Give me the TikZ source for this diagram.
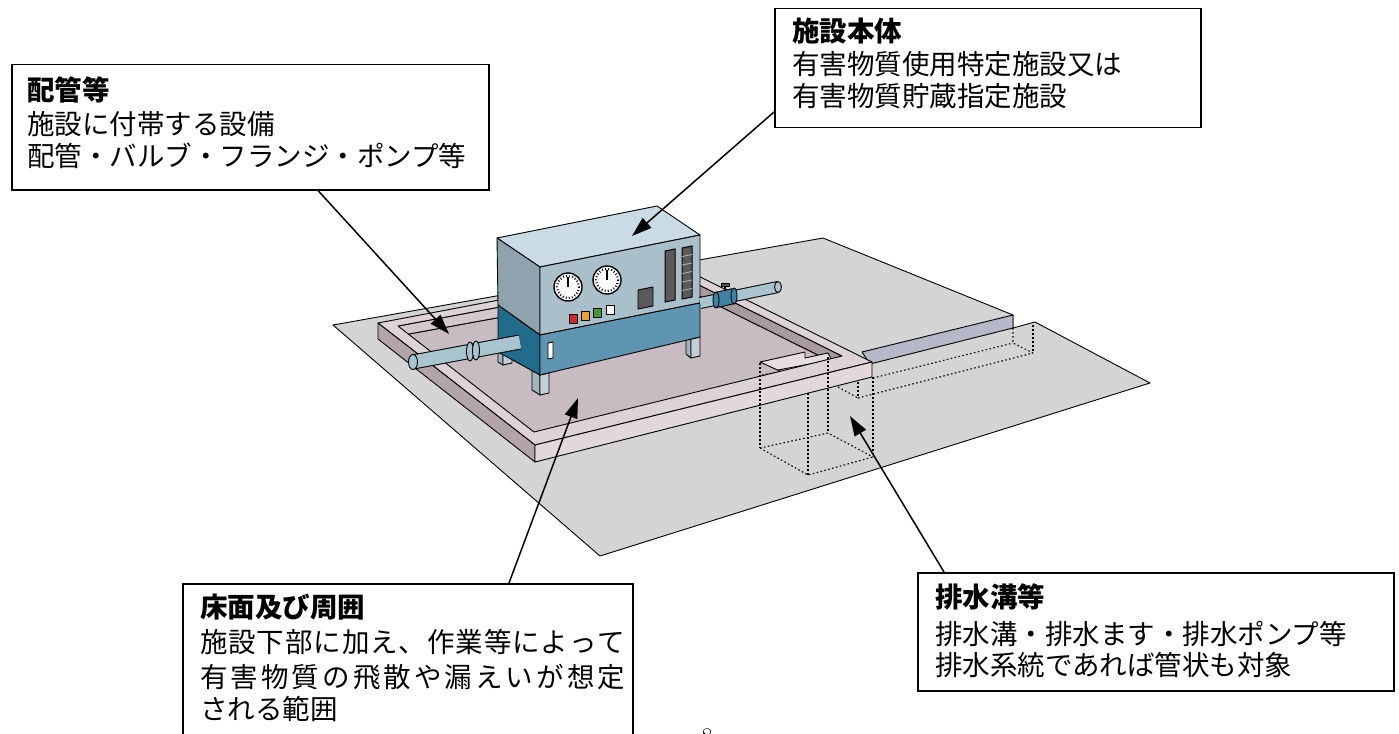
\documentclass[tikz,border=0pt]{standalone}
\usepackage{fontspec}
\setmainfont{Noto Sans CJK JP}
\newfontfamily\lmfont{Latin Modern Roman}
\usetikzlibrary{arrows.meta,calc}
\definecolor{plane}{HTML}{D4D4D4}
\definecolor{slabface}{HTML}{B4B8C9}
\definecolor{floorc}{HTML}{C8BBC1}
\definecolor{bermtop}{HTML}{DDD2D6}
\definecolor{bermfront}{HTML}{E2D8DB}
\definecolor{bermleft}{HTML}{B2A4A9}
\definecolor{bermin}{HTML}{A99AA0}
\definecolor{bermback}{HTML}{D3C8CC}
\definecolor{pitc}{HTML}{E6DEE1}
\definecolor{mtop}{HTML}{C9DCE5}
\definecolor{mfront}{HTML}{A9BFCA}
\definecolor{mleft}{HTML}{8EA3AD}
\definecolor{mfrontlow}{HTML}{5F95B1}
\definecolor{mleftlow}{HTML}{216B8B}
\definecolor{pipec}{HTML}{A8C4CE}
\definecolor{valvec}{HTML}{3B82A3}
\definecolor{legfront}{HTML}{C2D0D6}
\definecolor{legside}{HTML}{A2B4BC}
\definecolor{dispc}{HTML}{5A5A5A}
\definecolor{btnred}{HTML}{D8232A}
\definecolor{btnorange}{HTML}{F0A030}
\definecolor{btngreen}{HTML}{3B9B3B}
\makeatletter
\def\spr@end{}
\def\spr@loop#1{\ifx#1\spr@end\else#1\hfill\expandafter\spr@loop\fi}
\newcommand\spreadto[2]{\hbox to #1{\spr@loop#2\spr@end\hskip 0pt plus -1fill\relax}}
\makeatother
\begin{document}
\begin{tikzpicture}[x=1pt,y=-1pt,
  edge/.style={draw=black,line width=0.9pt,line join=round},
  hid/.style={draw=black,line width=1.1pt,dash pattern=on 1.6pt off 2.4pt},
  box/.style={draw=black,line width=1.5pt,fill=white,rectangle,inner sep=0pt,anchor=north west},
  lbl/.style={anchor=base west,inner sep=0pt,font=\fontsize{27.5}{30}\selectfont},
  hd/.style={anchor=base west,inner sep=0pt,font=\fontsize{27.5}{30}\selectfont\bfseries},
  callout/.style={line width=1.5pt,-{Triangle[length=20pt,width=13pt]}}]
\useasboundingbox (0,0) rectangle (1399,733);
\fill[white] (0,0) rectangle (1399,733);

% ground plane
\filldraw[fill=plane,edge] (333,325) -- (823,238) -- (1013,315) -- (1013,328) -- (1035,322) -- (1150,383) -- (600,556) -- cycle;
% raised slab front face
\filldraw[fill=slabface,edge] (862,352) -- (1013,315) -- (1013,328) -- (870,364) -- cycle;

% containment berm
\coordinate (BL) at (378,323); \coordinate (BR) at (678,266);
\coordinate (FR) at (872,362); \coordinate (FL) at (535,445);
\coordinate (BLi) at (398,326); \coordinate (BRi) at (677,274);
\coordinate (FRi) at (842,356); \coordinate (FLi) at (534,432);
\filldraw[fill=floorc,edge] (398,336) -- (677,285) -- (842,367) -- (534,447) -- cycle;
\filldraw[fill=bermback,edge] (BLi) -- (BRi) -- (677,285) -- (398,336) -- cycle;
\filldraw[fill=bermin,edge] (BRi) -- (FRi) -- (842,367) -- (677,285) -- cycle;
% pit opening
\filldraw[fill=pitc,edge] (760,362) -- (805,352) -- (805,358) -- (828,353) -- (834,364) -- (795,378) -- cycle;
\draw[edge] (778,370) -- (831,360);
% berm top, outer faces
\fill[bermtop,even odd rule] (BL) -- (BR) -- (FR) -- (FL) -- cycle (BLi) -- (BRi) -- (FRi) -- (FLi) -- cycle;
\draw[edge] (BL) -- (BR) -- (FR) -- (FL) -- cycle (BLi) -- (BRi) -- (FRi) -- (FLi) -- cycle;
\filldraw[fill=bermleft,edge] (BL) -- (FL) -- (535,462) -- (378,339) -- cycle;
\filldraw[fill=bermfront,edge] (FL) -- (FR) -- (872,377) -- (535,462) -- cycle;

% hidden drain channel and pit (dotted)
\draw[hid] (873,378) -- (1013,343);
\draw[hid] (858,398) -- (1033,353);
\draw[hid] (1013,328) -- (1013,343) -- (1033,353);
\draw[hid] (1033,325) -- (1033,353);
\draw[hid] (858,382) -- (858,398);
\draw[hid] (838,387) -- (858,398);
\draw[hid] (760,363) -- (760,448);
\draw[hid,line width=1.5pt] (808,393) -- (808,475);
\draw[hid] (828,357) -- (828,433);
\draw[hid] (873,377) -- (873,457);
\draw[hid] (760,448) -- (808,475) -- (873,457);
\draw[hid] (760,448) -- (828,433) -- (873,457);
\draw[hid] (762,375) -- (778,372);

% machine legs
\filldraw[fill=legside,edge] (498,350) -- (503,353) -- (503,365) -- (498,362) -- cycle;
\filldraw[fill=legfront,edge] (503,353) -- (512,351) -- (512,363) -- (503,365) -- cycle;
\filldraw[fill=legside,edge] (532,370) -- (540,375) -- (540,395) -- (532,390) -- cycle;
\filldraw[fill=legfront,edge] (540,375) -- (549,373) -- (549,393) -- (540,395) -- cycle;
\filldraw[fill=legside,edge] (686,335) -- (691,339) -- (691,358) -- (686,354) -- cycle;
\filldraw[fill=legfront,edge] (691,339) -- (700,337) -- (700,356) -- (691,358) -- cycle;
% machine body
\filldraw[fill=mtop,edge] (497,238) -- (657,206) -- (700,235) -- (540,267) -- cycle;
\filldraw[fill=mleft,edge] (497,238) -- (540,267) -- (540,335) -- (498,305) -- cycle;
\filldraw[fill=mleftlow,edge] (498,305) -- (540,335) -- (540,375) -- (498,352) -- cycle;
\filldraw[fill=mfront,edge] (540,267) -- (700,235) -- (700,303) -- (540,335) -- cycle;
\filldraw[fill=mfrontlow,edge] (540,335) -- (700,303) -- (700,337) -- (540,375) -- cycle;
% gauges
\foreach \gx/\gy in {568/287, 607/280}{
  \filldraw[fill=white,draw=black,line width=1.4pt] (\gx,\gy) circle[radius=14];
  \draw[line width=2.2pt,dash pattern=on 0.9pt off 2.2pt] (\gx,\gy) circle[radius=11];
  \draw[line width=2pt] (\gx,\gy) -- ++(0,-10);
}
% buttons
\filldraw[fill=btnred,edge] (569,314) rectangle ++(8,9);
\filldraw[fill=btnorange,edge] (581,311) rectangle ++(8,9);
\filldraw[fill=btngreen,edge] (593,308) rectangle ++(8,9);
\filldraw[fill=white,edge] (606,305) rectangle ++(8,9);
% display and bars
\filldraw[fill=dispc,edge] (638,290) -- (653,287) -- (653,306) -- (638,309) -- cycle;
\filldraw[fill=dispc,draw=black,line width=1pt] (665,251) -- (675,249) -- (675,300) -- (665,302) -- cycle;
\filldraw[fill=dispc,draw=black,line width=1pt] (682,248) -- (692,246) -- (692,297) -- (682,299) -- cycle;
\foreach \k in {1,...,5}{
  \draw[white!70!black,line width=0.8pt] (682,{248+8.5*\k}) -- (692,{246+8.5*\k});
}
\filldraw[fill=white,edge] (548,343) -- (553,342) -- (553,358) -- (548,359) -- cycle;

% left pipe
\draw[line width=15pt,black] (413,362) -- (520,342);
\draw[line width=13pt,pipec] (413,362) -- (520,342);
\filldraw[fill=pipec,edge] (413,362) ellipse[x radius=4.5,y radius=7.5];
\filldraw[fill=pipec,edge] (470,351.5) ellipse[x radius=3.5,y radius=9.5];
\filldraw[fill=pipec,edge] (476,350.5) ellipse[x radius=3.5,y radius=9.5];
% right pipe with valve
\draw[line width=12pt,black] (700,303) -- (778,287);
\draw[line width=10pt,pipec] (700,303) -- (778,287);
\filldraw[fill=pipec,edge] (778,287) ellipse[x radius=3.5,y radius=5.5];
\draw[line width=16pt,black] (716,300) -- (734,296);
\draw[line width=14pt,valvec] (716,300) -- (734,296);
\filldraw[fill=valvec,edge] (716,300) ellipse[x radius=3,y radius=8];
\filldraw[fill=valvec,edge] (734,296) ellipse[x radius=3,y radius=8];
\draw[line width=2.5pt] (725,290) -- (725,284);
\filldraw[fill=dispc,edge] (721,283) rectangle (729,286);

% label boxes
\node[box,minimum width=477pt,minimum height=125pt] (bPipe) at (11,64) {};
\node[box,minimum width=426pt,minimum height=119pt] (bBody) at (774,8) {};
\node[box,minimum width=450pt,minimum height=180pt] (bFloor) at (182,583) {};
\node[box,minimum width=476pt,minimum height=118pt] (bDrain) at (917,572) {};

\node[hd]  (t1a) at (27,101) {配管等};
\node[lbl] (t1b) at (27,134.5) {施設に付帯する設備};
\node[lbl] (t1c) at (27,166.5) {配管・バルブ・フランジ・ポンプ等};

\node[hd]  (t2a) at (792,42) {施設本体};
\node[lbl] (t2b) at (792,74.5) {有害物質使用特定施設又は};
\node[lbl] (t2c) at (792,106.5) {有害物質貯蔵指定施設};

\node[hd]  (t3a) at (200,617.5) {床面及び周囲};
\node[lbl] (t3b) at (200,652) {\spreadto{425pt}{施設下部に加え、作業等によって}};
\node[lbl] (t3c) at (200,687) {\spreadto{425pt}{有害物質の飛散や漏えいが想定}};
\node[lbl] (t3d) at (200,719.5) {される範囲};

\node[hd]  (t4a) at (935,607) {排水溝等};
\node[lbl] (t4b) at (935,644) {排水溝・排水ます・排水ポンプ等};
\node[lbl] (t4c) at (935,675.5) {排水系統であれば管状も対象};

\node[anchor=base,inner sep=0pt,font=\lmfont\fontsize{24}{24}\selectfont] (pg) at (707,744) {8};

% callout arrows
\coordinate (tipPipe) at (449,334);
\coordinate (tipBody) at (632,236);
\coordinate (tipFloor) at (578,398);
\coordinate (tipDrain) at (850,416);
\draw[callout] ($(bPipe.south west)+(307,0)$) -- (tipPipe);
\draw[callout] ($(bBody.north west)+(0,104)$) -- (tipBody);
\draw[callout] ($(bFloor.north west)+(327,0)$) -- (tipFloor);
\draw[callout] ($(bDrain.north west)+(27,0)$) -- (tipDrain);
\end{tikzpicture}
\end{document}
